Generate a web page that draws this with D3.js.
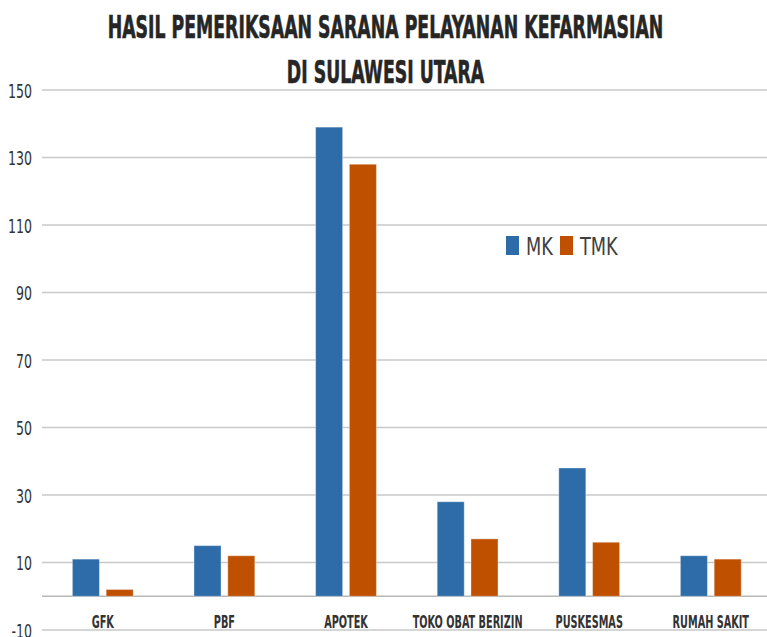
<!DOCTYPE html>
<html>
<head>
<meta charset="utf-8">
<script src="https://cdn.jsdelivr.net/npm/d3@7/dist/d3.min.js"></script>
<style>
  html, body { margin: 0; padding: 0; background: #ffffff; }
  svg { display: block; }
</style>
</head>
<body>
<svg id="chart" width="767" height="637"></svg>
<script>
const titleLines = ["HASIL PEMERIKSAAN SARANA PELAYANAN KEFARMASIAN", "DI SULAWESI UTARA"];
const categories = ["GFK", "PBF", "APOTEK", "TOKO OBAT BERIZIN", "PUSKESMAS", "RUMAH SAKIT"];
const seriesNames = ["MK", "TMK"];
const mkValues = [11, 15, 139, 28, 38, 12];
const tmkValues = [2, 12, 128, 17, 16, 11];
const yTicks = [-10, 10, 30, 50, 70, 90, 110, 130, 150];
const colors = ["#2D6CA8", "#BF5000"];

const FONT = "'Liberation Sans Narrow', 'DejaVu Sans Condensed', 'Arial Narrow', sans-serif";
const svg = d3.select("#chart");

const y = d3.scaleLinear().domain([-10, 150]).range([630, 90]);
const x0 = d3.scaleBand().domain(categories).range([42, 771.6]).padding(0);
const groupW = x0.bandwidth() * 0.5;
const x1 = d3.scaleBand().domain(seriesNames).range([0, groupW]).paddingInner(0.2);

// horizontally compress texts (placed at 0,0 inside translated groups) via scale transform
function placeScaled(sel, k, posFn) {
  sel.attr("transform", (d, i) => {
    const p = posFn(d, i);
    return `translate(${p[0]},${p[1]}) scale(${k},1)`;
  });
}

// gridlines
svg.append("g").selectAll("line").data(yTicks.concat([0])).join("line")
  .attr("x1", 42).attr("x2", 767)
  .attr("y1", d => y(d)).attr("y2", d => y(d))
  .attr("stroke", d => d === 0 ? "#b8b8b8" : "#c8c8c8")
  .attr("stroke-width", 1.4);

// y labels
const yl = svg.append("g").selectAll("text").data(yTicks).join("text")
  .attr("text-anchor", "end")
  .attr("font-family", FONT).attr("font-size", 19)
  .attr("fill", "#333333")
  .text(d => d);
const kY = 24 / yl.nodes()[yTicks.length - 1].getComputedTextLength();
placeScaled(yl, kY, d => [32, y(d) + 7.5]);

// bars
const rows = categories.map((c, i) => ({ cat: c, vals: [mkValues[i], tmkValues[i]] }));
const groups = svg.append("g").selectAll("g").data(rows).join("g")
  .attr("transform", d => `translate(${x0(d.cat) + (x0.bandwidth() - groupW) / 2},0)`);
groups.selectAll("rect").data(d => d.vals.map((v, j) => ({ s: seriesNames[j], v, j }))).join("rect")
  .attr("x", d => x1(d.s))
  .attr("width", x1.bandwidth())
  .attr("y", d => y(d.v))
  .attr("height", d => y(0) - y(d.v))
  .attr("fill", d => colors[d.j])
  .attr("stroke", "rgba(255,255,255,0.35)")
  .attr("stroke-width", 1);

// category labels
const cl = svg.append("g").selectAll("text").data(categories).join("text")
  .attr("text-anchor", "middle")
  .attr("font-family", FONT).attr("font-size", 18).attr("font-weight", "bold")
  .attr("fill", "#333333")
  .text(d => d);
const kC = 110 / cl.nodes()[3].getComputedTextLength();
placeScaled(cl, kC, d => [x0(d) + x0.bandwidth() / 2, 628]);

// title
const tt = svg.append("g").selectAll("text").data(titleLines).join("text")
  .attr("text-anchor", "middle")
  .attr("font-family", FONT).attr("font-size", 31.5).attr("font-weight", "bold")
  .attr("fill", "#262626")
  .attr("stroke", "#262626").attr("stroke-width", 0.6)
  .text(d => d);
const kT = 556 / tt.nodes()[0].getComputedTextLength();
placeScaled(tt, kT, (d, i) => [385.5, i === 0 ? 38 : 83]);

// legend
const legend = svg.append("g");
const legX = [506, 560];
seriesNames.forEach((s, i) => {
  legend.append("rect")
    .attr("x", legX[i]).attr("y", 236)
    .attr("width", 13).attr("height", 19)
    .attr("fill", colors[i]);
});
const lt = legend.selectAll("text").data(seriesNames).join("text")
  .attr("font-family", FONT).attr("font-size", 25)
  .attr("fill", "#404040")
  .text(d => d);
const kL = 37.7 / lt.nodes()[1].getComputedTextLength();
placeScaled(lt, kL, (d, i) => [legX[i] + 20, 255]);
</script>
</body>
</html>
